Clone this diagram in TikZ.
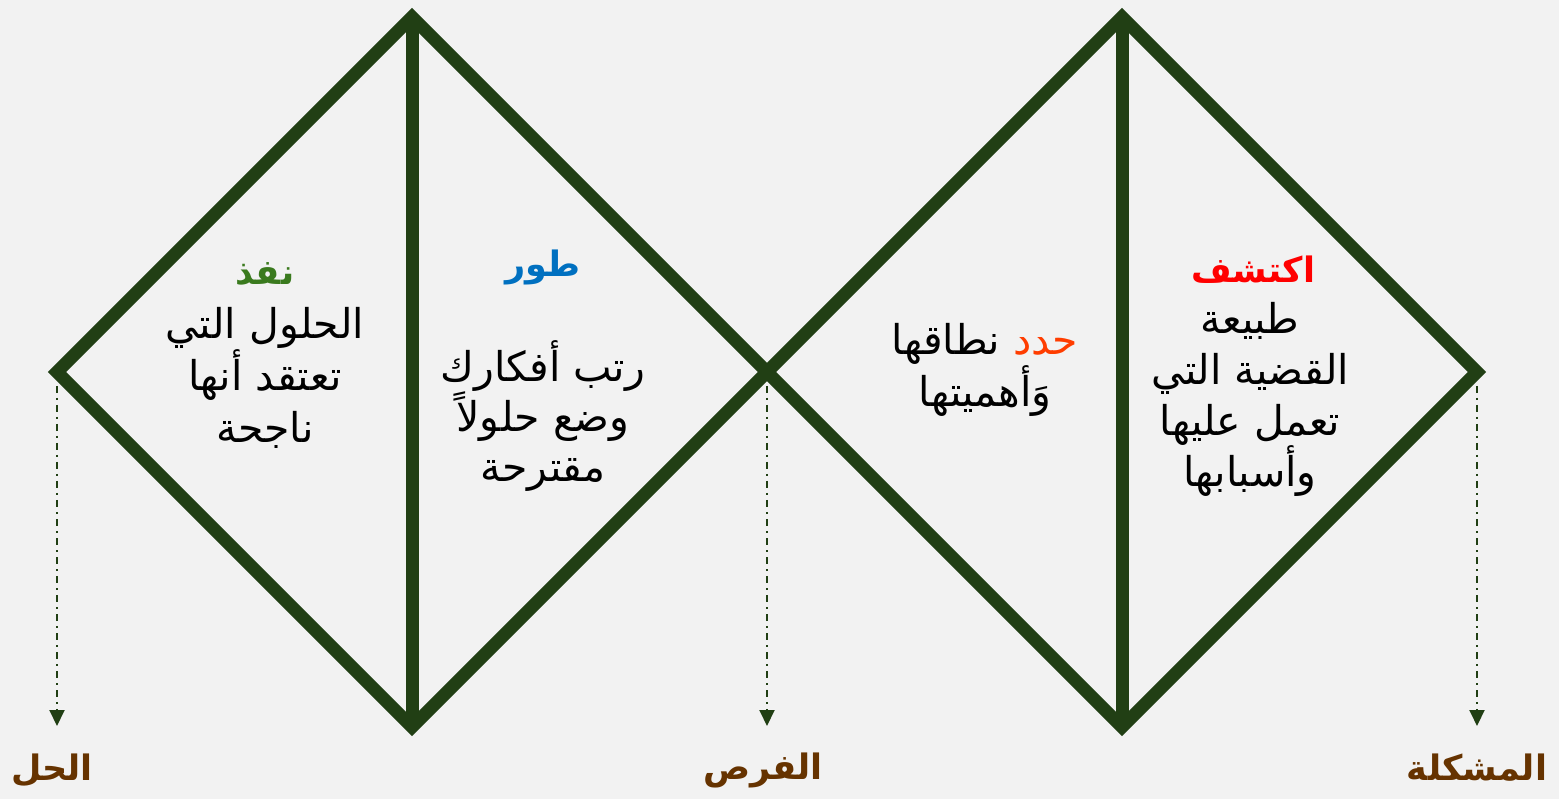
\documentclass[tikz,border=0pt]{standalone}
\usepackage{fontspec}
\usetikzlibrary{arrows.meta}
\TeXXeTstate=1
\newfontfamily\arabicfont[Script=Arabic]{DejaVu Sans}
\definecolor{bg}{HTML}{F2F2F2}
\definecolor{dgreen}{HTML}{213F14}
\definecolor{hgreen}{HTML}{3A7A1E}
\definecolor{hblue}{HTML}{0070C0}
\definecolor{hred}{HTML}{FF0000}
\definecolor{horange}{HTML}{FF3D00}
\definecolor{lbrown}{HTML}{663300}
\tikzset{
  shapeline/.style={draw=dgreen, line width=13pt, line join=miter},
  guide/.style={draw=dgreen, line width=2pt, dash pattern=on 7pt off 5pt on 2pt off 5pt, -{Triangle[width=15pt,length=16pt]}},
  body/.style={font=\arabicfont\fontsize{41}{52}\selectfont, align=center, text=black, inner sep=0pt},
  head/.style={font=\arabicfont\bfseries\fontsize{35}{40}\selectfont, inner sep=0pt},
  lbl/.style={font=\arabicfont\bfseries\fontsize{35}{40}\selectfont, text=lbrown, inner sep=0pt}
}
\begin{document}
\begin{tikzpicture}[x=1pt,y=-1pt]
\fill[bg] (0,0) rectangle (1559,799);
\useasboundingbox (0,0) rectangle (1559,799);
% left diamond
\coordinate (LT) at (412,17);
\coordinate (LL) at (57,372);
\coordinate (LB) at (412,727);
\coordinate (M) at (767,372);
% right diamond
\coordinate (RT) at (1122,17);
\coordinate (RB) at (1122,727);
\coordinate (RR) at (1477,372);
\draw[shapeline] (LL) -- (LT) -- (M) -- (LB) -- cycle;
\draw[shapeline] (M) -- (RT) -- (RR) -- (RB) -- cycle;
\draw[shapeline, line cap=butt] (LT) -- (LB);
\draw[shapeline, line cap=butt] (RT) -- (RB);
% guides
\coordinate (g1s) at (57,386);
\coordinate (g1e) at (57,726);
\coordinate (g2s) at (767,386);
\coordinate (g2e) at (767,726);
\coordinate (g3s) at (1477,386);
\coordinate (g3e) at (1477,726);
\draw[guide] (g1s) -- (g1e);
\draw[guide] (g2s) -- (g2e);
\draw[guide] (g3s) -- (g3e);
% labels
\node[lbl] (l1) at (52,770) {\beginR الحل\endR};
\node[lbl] (l2) at (763,770) {\beginR الفرص\endR};
\node[lbl] (l3) at (1477,768) {\beginR المشكلة\endR};
% left diamond, left half
\node[head, text=hgreen] (h1) at (265,274) {\beginR نفذ\endR};
\node[body] (b1) at (265,378) {\beginR الحلول التي\endR\\ \beginR تعتقد أنها\endR\\ \beginR ناجحة\endR};
% left diamond, right half
\node[head, text=hblue] (h2) at (543,267) {\beginR طور\endR};
\node[body, font=\arabicfont\fontsize{41}{50}\selectfont] (b2) at (543,416) {\beginR رتب أفكارك\endR\\ \beginR وضع حلولاً\endR\\ \beginR مقترحة\endR};
% right diamond, left half (first line typed in visual order, left to right)
\node[body] (b3) at (985,370) {نطاقها {\color{horange}حدد}\\ \beginR وَأهميتها\endR};
% right diamond, right half
\node[head, text=hred] (h4) at (1253,270) {\beginR اكتشف\endR};
\node[body, font=\arabicfont\fontsize{41}{51}\selectfont] (b4) at (1250,399) {\beginR طبيعة\endR\\ \beginR القضية التي\endR\\ \beginR تعمل عليها\endR\\ \beginR وأسبابها\endR};
\end{tikzpicture}
\end{document}
